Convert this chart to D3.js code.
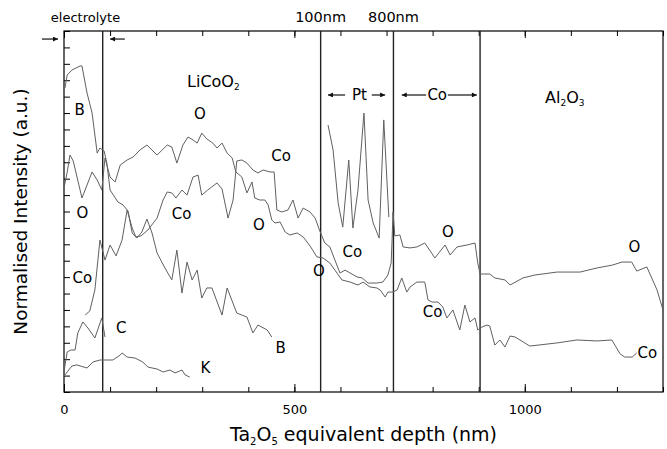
<!DOCTYPE html>
<html><head><meta charset="utf-8">
<script src="https://cdn.jsdelivr.net/npm/d3@7"></script>
<style>body{margin:0;background:#fff}</style>
</head><body>
<svg id="c" width="667" height="449"></svg>
<script>
// ---- data (x: Ta2O5 equivalent depth in nm, y: normalised intensity, a.u.) ----
const xMinorTicks = d3.range(0, 1301, 100);
const xMajorTicks = [0, 500, 1000];
const yTicks = d3.range(0, 23, 1);
const boundaries = [84, 557, 715, 903];

const lineB = [[2,18.52],[7,19.32],[17,19.62],[35,19.87],[39,19.87],[50,18.22],[61,17.00],[72,14.56],[78,14.87],[87,14.69],[93,13.95],[100,12.31],[117,11.58],[128,11.40],[139,11.03],[148,9.69],[158,9.38],[169,9.75],[180,10.54],[191,9.69],[202,8.47],[219,7.56],[234,6.83],[245,8.65],[256,6.03],[267,7.92],[278,6.83],[289,7.43],[299,5.73],[310,6.34],[321,6.34],[343,4.69],[354,6.34],[375,4.81],[386,4.69],[397,4.57],[410,3.60],[421,4.08],[441,3.78],[451,3.35]];

const lineCo = [[46,4.69],[56,4.94],[67,6.22],[78,9.26],[89,8.04],[100,8.96],[113,8.29],[126,9.26],[137,11.09],[148,9.99],[156,9.45],[167,9.51],[182,9.87],[202,10.60],[215,11.70],[224,12.19],[234,12.13],[243,11.82],[256,12.31],[267,12.00],[280,13.10],[291,13.22],[299,12.00],[312,12.31],[332,12.74],[343,12.37],[356,10.60],[367,11.70],[375,14.08],[386,14.14],[397,13.95],[410,13.53],[421,13.35],[432,13.53],[447,13.41],[456,13.41],[462,11.09],[473,10.97],[486,11.09],[497,11.70],[508,10.60],[519,11.21],[534,10.97],[545,10.60],[556,9.75],[566,9.08],[577,8.84],[588,8.04],[599,7.25],[610,7.43],[621,7.25],[636,7.01],[647,6.95],[660,6.64],[679,6.64],[692,6.70],[703,7.13],[710,7.86],[712,9.26],[714,10.97],[718,9.51],[729,9.57],[736,8.84],[751,8.78],[766,8.84],[783,9.08],[805,8.17],[827,8.96],[838,8.35],[853,8.84],[875,8.96],[892,9.08],[898,7.86],[903,7.19],[924,7.19],[935,6.95],[957,6.83],[968,6.52],[996,6.95],[1022,7.13],[1070,7.31],[1120,7.31],[1157,7.56],[1191,7.74],[1211,7.92],[1232,7.92],[1243,7.37],[1265,7.62],[1287,6.22],[1300,5.00]];

const lineO = [[0,12.43],[7,13.41],[13,14.44],[20,14.08],[39,11.82],[61,13.41],[72,12.92],[82,12.31],[89,14.26],[100,13.10],[111,12.80],[122,13.83],[137,14.14],[150,14.32],[165,14.75],[180,15.05],[202,14.44],[224,15.05],[234,14.93],[245,13.95],[258,15.05],[269,15.54],[280,15.36],[289,15.17],[299,15.78],[310,15.42],[323,15.17],[332,14.87],[343,15.17],[354,14.56],[365,14.26],[373,13.41],[386,13.10],[397,12.13],[408,12.80],[414,11.82],[425,11.70],[436,11.70],[443,11.40],[451,10.48],[458,10.30],[469,10.36],[480,9.75],[490,9.57],[506,9.69],[519,9.45],[534,8.90],[549,8.23],[562,8.17],[577,7.86],[588,7.43],[603,6.83],[621,6.70],[638,6.52],[649,6.70],[664,6.40],[679,6.34],[686,6.22],[697,5.79],[703,6.09],[714,6.09],[723,6.22],[733,6.95],[744,6.09],[751,6.40],[766,6.70],[783,6.70],[790,5.61],[799,5.48],[812,5.48],[822,5.18],[831,4.51],[844,5.00],[859,3.78],[870,5.30],[881,4.27],[892,4.51],[898,3.78],[907,3.96],[918,4.08],[924,4.02],[935,2.86],[946,3.17],[957,2.74],[968,3.41],[979,3.35],[1011,2.80],[1070,2.99],[1113,3.17],[1157,3.11],[1189,3.17],[1207,2.32],[1217,2.13],[1233,2.13],[1243,2.38]];

const linePt = [[573,16.27],[584,14.75],[595,11.52],[605,10.05],[618,14.14],[627,9.99],[638,12.31],[651,17.00],[660,11.70],[671,10.30],[684,9.38],[694,16.58],[705,10.66]];

const lineC = [[0,1.22],[4,1.95],[7,2.44],[15,2.56],[24,2.56],[30,3.60],[41,4.27],[52,3.90],[67,3.29],[82,4.51],[89,3.35]];

const lineK = [[0,0.98],[7,1.22],[17,1.58],[28,1.65],[50,1.46],[63,1.83],[78,1.95],[106,1.95],[122,2.25],[126,2.38],[137,2.13],[154,2.07],[171,1.83],[182,1.52],[202,1.40],[215,1.22],[230,1.34],[241,1.16],[256,1.34],[263,1.04],[273,0.91]];

// curve labels: [text, x (nm), y (a.u.)]
const curveLabels = [["B",34,16.88],["O",295,16.64],["Co",471,14.08],["O",40,10.60],["Co",255,10.54],["O",423,9.87],["O",553,7.07],["Co",40,6.64],["C",124,3.60],["B",470,2.38],["K",307,1.16],["Co",626,8.23],["O",833,9.45],["Co",800,4.57],["O",1238,8.53],["Co",1266,2.07]];
const boundaryLabels = ["100nm", "800nm"];

// ---- drawing ----
const svg = d3.select("#c");
const FONT = "'DejaVu Sans', sans-serif";
const x = d3.scaleLinear().domain([0, 1300]).range([64, 663]);
const y = d3.scaleLinear().domain([0, 22]).range([392, 31]);

const defs = svg.append("defs");
defs.append("marker").attr("id","ah").attr("viewBox","0 0 10 10").attr("refX",10).attr("refY",5)
  .attr("markerWidth",7).attr("markerHeight",5).attr("markerUnits","userSpaceOnUse").attr("orient","auto")
  .append("path").attr("d","M0,0L10,5L0,10Z").attr("fill","#111");

// axes
function styleAxis(g){ g.select(".domain").remove(); g.selectAll("line").attr("stroke","#000"); g.selectAll("text").attr("font-family",FONT).attr("font-size",13).attr("fill","#000"); }
svg.append("g").attr("transform",`translate(0,${y(0)})`)
  .call(d3.axisBottom(x).tickValues(xMinorTicks).tickSize(-5).tickFormat("")).call(styleAxis);
svg.append("g").attr("transform",`translate(0,${y(0)})`)
  .call(d3.axisBottom(x).tickValues(xMajorTicks).tickSize(-8).tickPadding(13).tickFormat(d3.format("d"))).call(styleAxis);
svg.append("g").attr("transform",`translate(0,${y(22)})`)
  .call(d3.axisTop(x).tickValues(xMinorTicks).tickSize(-5).tickFormat("")).call(styleAxis);
svg.append("g").attr("transform",`translate(0,${y(22)})`)
  .call(d3.axisTop(x).tickValues(xMajorTicks).tickSize(-7).tickFormat("")).call(styleAxis);
svg.append("g").attr("transform",`translate(${x(0)},0)`)
  .call(d3.axisLeft(y).tickValues(yTicks).tickSize(-6).tickFormat("")).call(styleAxis);

// frame
svg.append("rect").attr("x",x(0)).attr("y",y(22)).attr("width",x(1300)-x(0)).attr("height",y(0)-y(22))
  .attr("fill","none").attr("stroke","#000").attr("stroke-width",1.2);

// boundaries
svg.selectAll(".bnd").data(boundaries).enter().append("line")
  .attr("x1",d=>x(d)).attr("x2",d=>x(d)).attr("y1",y(22)).attr("y2",y(0))
  .attr("stroke","#222").attr("stroke-width",1.4);

// curves
const line = d3.line().x(d=>x(d[0])).y(d=>y(d[1]));
[lineB, lineCo, lineO, linePt, lineC, lineK].forEach(s=>{
  svg.append("path").attr("d",line(s)).attr("fill","none").attr("stroke","#606060").attr("stroke-width",1).attr("stroke-linejoin","round");
});

// curve labels
svg.selectAll(".cl").data(curveLabels).enter().append("text")
  .attr("x",d=>x(d[1])).attr("y",d=>y(d[2])).attr("text-anchor","middle")
  .attr("font-family",FONT).attr("font-size",15).attr("fill","#000").text(d=>d[0]);

// region labels
const lt = svg.append("text").attr("x",x(267)).attr("y",y(18.59)).attr("font-family",FONT).attr("font-size",16).attr("fill","#000");
lt.append("tspan").text("LiCoO");
lt.append("tspan").attr("font-size",9).attr("dy",3).text("2");
const at = svg.append("text").attr("x",x(1044)).attr("y",y(17.61)).attr("font-family",FONT).attr("font-size",16).attr("fill","#000");
at.append("tspan").text("Al");
at.append("tspan").attr("font-size",9).attr("dy",3).text("2");
at.append("tspan").attr("dy",-3).text("O");
at.append("tspan").attr("font-size",9).attr("dy",3).text("3");

svg.append("text").attr("x",x(641)).attr("y",y(17.79)).attr("text-anchor","middle").attr("font-family",FONT).attr("font-size",15).text("Pt");
svg.append("text").attr("x",x(810)).attr("y",y(17.79)).attr("text-anchor","middle").attr("font-family",FONT).attr("font-size",15).text("Co");

// arrows [from, to, y]
const arrows = [[-48,-13,21.51],[132,100,21.51],[610,573,18.1],[668,697,18.1],[786,733,18.1],[833,896,18.1]];
svg.selectAll(".ar").data(arrows).enter().append("line")
  .attr("x1",d=>x(d[0])).attr("x2",d=>x(d[1])).attr("y1",d=>y(d[2])).attr("y2",d=>y(d[2]))
  .attr("stroke","#111").attr("stroke-width",1.2).attr("marker-end","url(#ah)");

// top texts
svg.append("text").attr("x",85.5).attr("y",22).attr("text-anchor","middle").attr("font-family",FONT).attr("font-size",13).text("electrolyte");
svg.selectAll(".bl").data(boundaryLabels).enter().append("text")
  .attr("x",(d,i)=>x(boundaries[i+1])).attr("y",22).attr("text-anchor","middle")
  .attr("font-family",FONT).attr("font-size",14.5).text(d=>d);

// axis titles
const xt = svg.append("text").attr("x",(x(0)+x(1300))/2).attr("y",441).attr("text-anchor","middle")
  .attr("font-family",FONT).attr("font-size",19).attr("fill","#000");
xt.append("tspan").text("Ta");
xt.append("tspan").attr("font-size",10).attr("dy",4).text("2");
xt.append("tspan").attr("dy",-4).text("O");
xt.append("tspan").attr("font-size",10).attr("dy",4).text("5");
xt.append("tspan").attr("dy",-4).text(" equivalent depth (nm)");

svg.append("text").attr("transform",`translate(27,${(y(0)+y(22))/2}) rotate(-90)`).attr("text-anchor","middle")
  .attr("font-family",FONT).attr("font-size",18.5).attr("fill","#000").text("Normalised Intensity (a.u.)");
</script>
</body></html>
